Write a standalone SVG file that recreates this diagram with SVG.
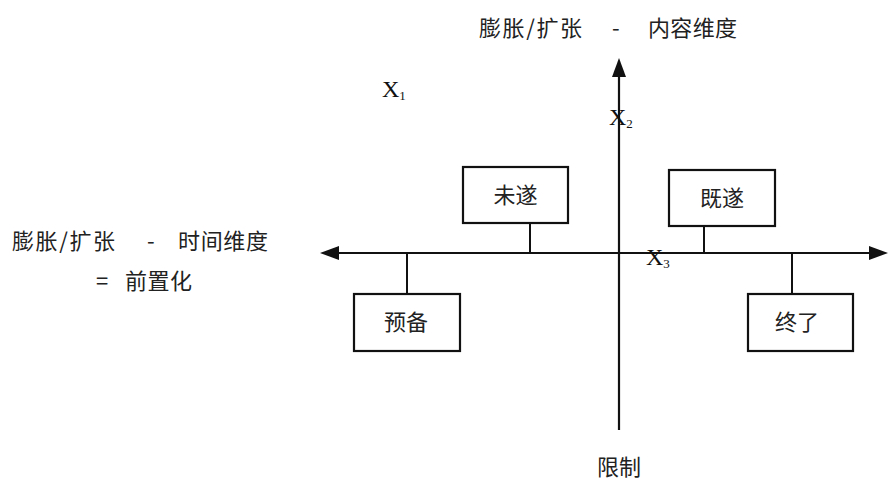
<svg xmlns="http://www.w3.org/2000/svg" width="891" height="480" viewBox="0 0 891 480">
<style>
.ax{stroke:#111;stroke-width:2.2;fill:none}
.ln{stroke:#111;stroke-width:2;fill:none}
.box{fill:#fff;stroke:#111;stroke-width:2.2}
.cj{font-family:"Noto Sans CJK SC","Noto Sans",sans-serif;font-size:22px;fill:#222}
.bt{font-family:"Noto Sans CJK SC",sans-serif;font-size:22px;fill:#222;text-anchor:middle}
.x{font-family:"Liberation Serif",serif;font-size:24px;fill:#111}
.sub{font-size:13px}
</style>
<defs>
<marker id="ah" markerWidth="10" markerHeight="10" refX="9" refY="5" orient="auto" markerUnits="userSpaceOnUse" viewBox="0 0 10 10">
<path d="M0,0 L10,5 L0,10 z" fill="#111"/>
</marker>
</defs>
<rect width="891" height="480" fill="#fff"/>
<g id="connectors">
<line class="ax" x1="619" y1="430" x2="619" y2="76"/>
<path d="M619,58 L612,77 L626,77 z" fill="#111"/>
<line class="ax" x1="338" y1="253" x2="870" y2="253"/>
<path d="M320,253 L339,246 L339,260 z" fill="#111"/>
<path d="M888,253 L869,246 L869,260 z" fill="#111"/>
<line class="ln" x1="530" y1="223" x2="530" y2="253"/>
<line class="ln" x1="704" y1="226" x2="704" y2="253"/>
<line class="ln" x1="407" y1="253" x2="407" y2="294"/>
<line class="ln" x1="792" y1="253" x2="792" y2="294"/>
</g>
<g id="node-weisui">
<rect class="box" x="463" y="167" width="105" height="56"/>
<text class="bt" x="515.5" y="203">未遂</text>
</g>
<g id="node-jisui">
<rect class="box" x="669" y="170" width="106" height="56"/>
<text class="bt" x="722" y="206">既遂</text>
</g>
<g id="node-yubei">
<rect class="box" x="354" y="294" width="106" height="57"/>
<text class="bt" x="406" y="330">预备</text>
</g>
<g id="node-zhongle">
<rect class="box" x="748" y="294" width="105" height="57"/>
<text class="bt" x="797" y="330">终了</text>
</g>
<g id="labels">
<text class="cj" x="479" y="36" textLength="103" lengthAdjust="spacing">膨胀/扩张</text>
<text class="cj" x="612" y="36">-</text>
<text class="cj" x="648" y="36" textLength="89" lengthAdjust="spacing">内容维度</text>
<text class="cj" x="12" y="249" textLength="103" lengthAdjust="spacing">膨胀/扩张</text>
<text class="cj" x="147" y="249">-</text>
<text class="cj" x="178" y="249" textLength="90" lengthAdjust="spacing">时间维度</text>
<text class="cj" x="96" y="289">=</text>
<text class="cj" x="125" y="289" textLength="67" lengthAdjust="spacing">前置化</text>
<text class="cj" x="597" y="475">限制</text>
<text class="x" x="382" y="97">X<tspan class="sub" dy="3">1</tspan></text>
<text class="x" x="609" y="125">X<tspan class="sub" dy="3">2</tspan></text>
<text class="x" x="646" y="265">X<tspan class="sub" dy="3">3</tspan></text>
</g>
</svg>
